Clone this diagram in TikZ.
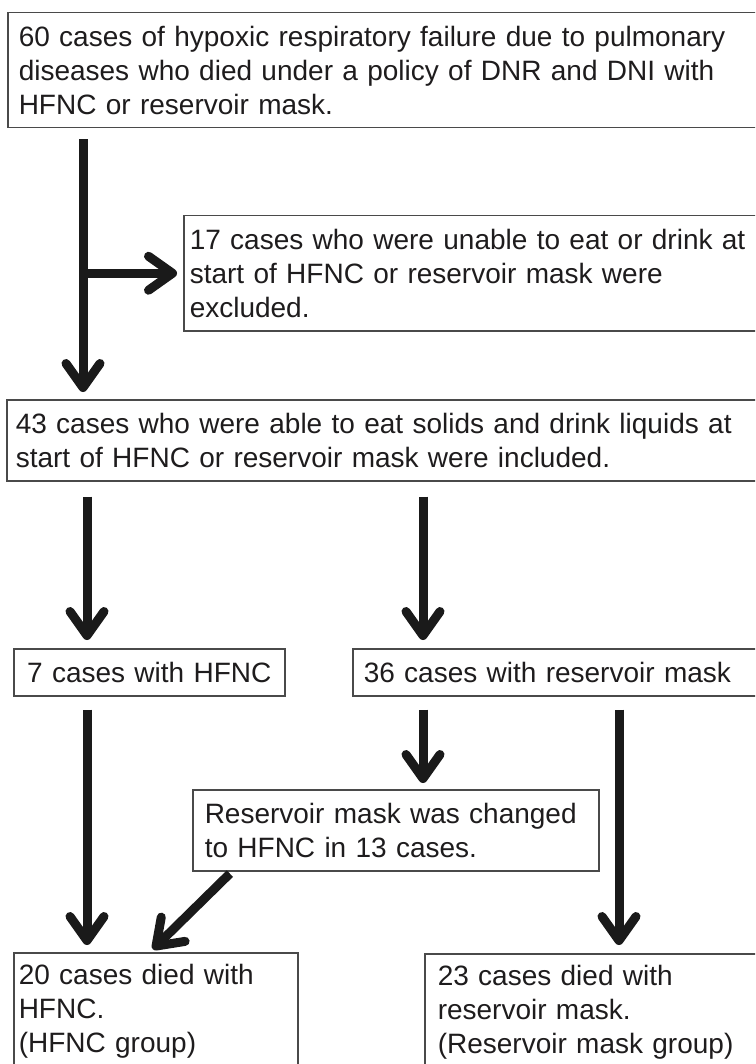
\documentclass[tikz,border=0pt]{standalone}
\usepackage{fontspec}
\setmainfont{Liberation Sans}
\usetikzlibrary{arrows.meta,positioning}
\definecolor{BoxLine}  {HTML}{4A4A4A}
\definecolor{FlowText} {HTML}{1E1C1D}
\definecolor{FlowArrow}{HTML}{1A1A1A}

\tikzset{
  stepbox/.style={draw=BoxLine,line width=0.75pt,anchor=north west,align=left,
    inner ysep=0pt,text=FlowText,font=\fontsize{14}{17}\selectfont},
  flow/.style={draw=FlowArrow,line width=4.5pt,
    -{Straight Barb[round,length=12pt,width=17pt]}}
}

\begin{document}
\begin{tikzpicture}[x=0.5pt,y=-0.5pt]
    \useasboundingbox (0,0) rectangle (755,1064);
    \clip (0,0) rectangle (755,1064);

    % boxes
    \node[stepbox,inner xsep=5.5pt,text width=370pt,minimum height=57.5pt] (cohort) at (7,12)
      {60 cases of hypoxic respiratory failure due to pulmonary\\
       diseases who died under a policy of DNR and DNI with\\
       HFNC or reservoir mask.};
    \node[stepbox,inner xsep=3pt,text width=290pt,minimum height=57.5pt] (excl) at (183,215)
      {17 cases who were unable to eat or drink at\\
       start of HFNC or reservoir mask were\\
       excluded.};
    \node[stepbox,inner xsep=4.5pt,text width=372pt,minimum height=40.5pt] (incl) at (6,399)
      {43 cases who were able to eat solids and drink liquids at\\
       start of HFNC or reservoir mask were included.};
    \node[stepbox,align=center,inner xsep=5pt,text width=125.5pt,minimum height=23.5pt] (hfnc) at (13,648)
      {7 cases with HFNC};
    \node[stepbox,inner xsep=5.5pt,text width=200pt,minimum height=23.5pt] (mask) at (352,648)
      {36 cases with reservoir mask};
    \node[stepbox,inner xsep=6pt,text width=191pt,minimum height=40.5pt] (chg) at (192,789)
      {Reservoir mask was changed\\
       to HFNC in 13 cases.};
    \node[stepbox,inner xsep=2.5pt,inner ysep=5.5pt,text width=137pt,text depth=45pt] (died1) at (13,952)
      {20 cases died with\\
       HFNC.\\
       (HFNC group)};
    \node[stepbox,inner xsep=6.5pt,inner ysep=5.5pt,text width=170pt,text depth=45pt] (died2) at (424,953)
      {23 cases died with\\
       reservoir mask.\\
       (Reservoir mask group)};

    % arrow columns
    \coordinate (trunk) at (83,0);
    \coordinate (armL)  at (87,0);
    \coordinate (armM)  at (423,0);
    \coordinate (armR)  at (619,0);
    \coordinate (slantA) at (232,0);
    \coordinate (slantB) at (150,0);

    % arrows
    \draw[flow,shorten <=5.5pt,shorten >=3.5pt] (cohort.south -| trunk) -- (incl.north -| trunk);
    \draw[flow,shorten >=3pt] (excl.west -| trunk) -- (excl.west);
    \draw[flow,shorten <=7.5pt,shorten >=4pt] (incl.south -| armL) -- (hfnc.north -| armL);
    \draw[flow,shorten <=7.5pt,shorten >=4pt] (incl.south -| armM) -- (mask.north -| armM);
    \draw[flow,shorten <=6.5pt,shorten >=3.5pt] (hfnc.south -| armL) -- (died1.north -| armL);
    \draw[flow,shorten <=6.5pt,shorten >=3pt] (mask.south -| armM) -- (chg.north -| armM);
    \draw[flow,shorten <=6.5pt,shorten >=4pt] (mask.south -| armR) -- (died2.north -| armR);
    \draw[flow,shorten <=1.5pt,shorten >=2pt] (chg.south -| slantA) -- (died1.north -| slantB);
\end{tikzpicture}
\end{document}
